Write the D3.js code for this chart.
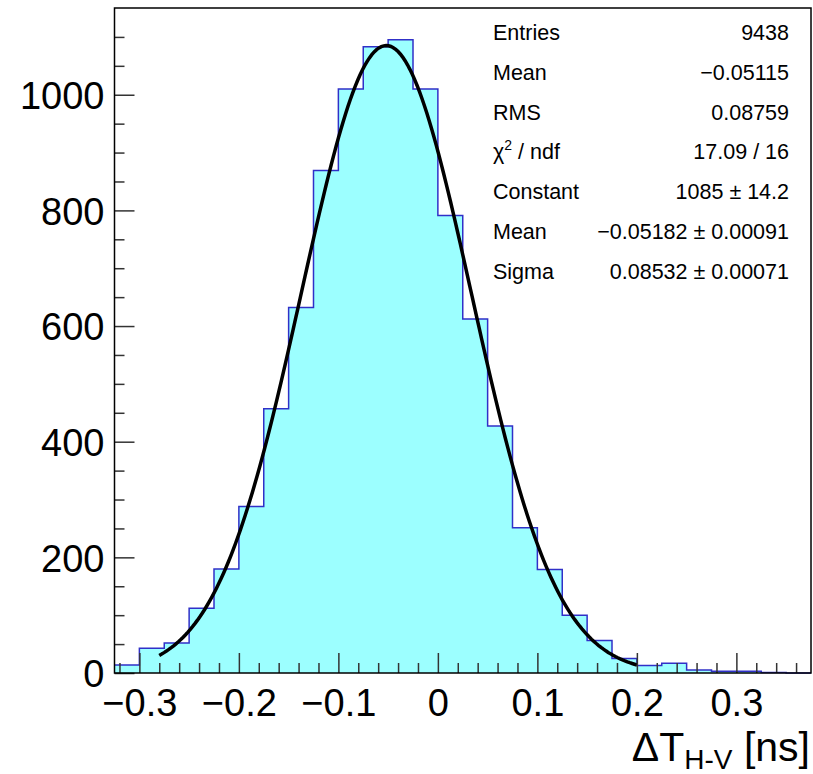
<!DOCTYPE html>
<html>
<head>
<meta charset="utf-8">
<script src="https://cdn.jsdelivr.net/npm/d3@7"></script>
<style>
  body { margin: 0; background: #fff; }
  svg { display: block; }
</style>
</head>
<body>
<div id="chart"></div>
<script>
// Histogram of Delta T (H-V), 28 bins of 0.025 ns starting at -0.325
const binLow = -0.325;
const binWidth = 0.025;
const counts = [14, 43, 52, 112, 180, 288, 457, 632, 869, 1010, 1083, 1095, 1010, 791,
                612, 427, 251, 179, 100, 56, 25, 13, 17, 5, 3, 3, 1, 0];

// Gaussian fit: constant, mean, sigma, and the fit range
const fitParams = [1085, -0.05182, 0.08532];
const fitRange = [-0.28, 0.2];

const xMajorTicks = [-0.3, -0.2, -0.1, 0, 0.1, 0.2, 0.3];
const xMinorTicks = [-0.32, -0.28, -0.26, -0.24, -0.22, -0.18, -0.16, -0.14, -0.12, -0.08, -0.06, -0.04, -0.02,
                     0.02, 0.04, 0.06, 0.08, 0.12, 0.14, 0.16, 0.18, 0.22, 0.24, 0.26, 0.28, 0.32, 0.34, 0.36];
const yMajorTicks = [0, 200, 400, 600, 800, 1000];
const yMinorTicks = [50, 100, 150, 250, 300, 350, 450, 500, 550, 650, 700, 750, 850, 900, 950, 1050, 1100];

const statsLabels = ['Entries', 'Mean', 'RMS', 'χ2 / ndf', 'Constant', 'Mean', 'Sigma'];
const statsValues = ['9438', '−0.05115', '0.08759', '17.09 / 16', '1085 ± 14.2', '−0.05182 ± 0.00091', '0.08532 ± 0.00071'];

const figure_width = 813;
const figure_height = 774;
const frame = { left: 114.5, right: 811, top: 8, bottom: 673 };
const fontFamily = 'Liberation Sans, Arial, Helvetica, sans-serif';

const svg = d3.select('div#chart')
  .append('svg')
    .attr('width', figure_width)
    .attr('height', figure_height);

const x = d3.scaleLinear()
  .domain([binLow, binLow + counts.length * binWidth])
  .range([frame.left, frame.right]);

const y = d3.scaleLinear()
  .domain([0, 1150])
  .range([frame.bottom, frame.top]);

// Histogram fill and step outline
const steps = [];
counts.forEach(function(c, i) {
  const lo = binLow + i * binWidth;
  steps.push([lo, c]);
  steps.push([lo + binWidth, c]);
});

const area = d3.area()
  .x(function(d) { return x(d[0]); })
  .y0(y(0))
  .y1(function(d) { return y(d[1]); });

svg.append('path')
  .datum(steps)
  .attr('d', area)
  .attr('fill', '#9cffff');

const line = d3.line()
  .x(function(d) { return x(d[0]); })
  .y(function(d) { return y(d[1]); });

svg.append('path')
  .datum(steps)
  .attr('d', line)
  .attr('fill', 'none')
  .attr('stroke', '#3030c8')
  .attr('stroke-width', 1.5);

// Fit function
const gaus = function(v) {
  return fitParams[0] * Math.exp(-0.5 * Math.pow((v - fitParams[1]) / fitParams[2], 2));
};
const fitPoints = d3.range(0, 201).map(function(k) {
  const v = fitRange[0] + (fitRange[1] - fitRange[0]) * k / 200;
  return [v, gaus(v)];
});
svg.append('path')
  .datum(fitPoints)
  .attr('d', line)
  .attr('fill', 'none')
  .attr('stroke', '#000')
  .attr('stroke-width', 3.5);

// Axes (ROOT style: ticks pointing inward)
const xAxisMinor = svg.append('g')
  .attr('transform', 'translate(0,' + frame.bottom + ')')
  .call(d3.axisBottom(x).tickValues(xMinorTicks).tickSize(-10).tickFormat(''));
const xAxis = svg.append('g')
  .attr('transform', 'translate(0,' + frame.bottom + ')')
  .call(d3.axisBottom(x).tickValues(xMajorTicks).tickSize(-20).tickPadding(16)
    .tickFormat(function(d) { return d === 0 ? '0' : d3.format('.1f')(d).replace('-', '−'); }));

const yAxisMinor = svg.append('g')
  .attr('transform', 'translate(' + frame.left + ',0)')
  .call(d3.axisLeft(y).tickValues(yMinorTicks).tickSize(-10).tickFormat(''));
const yAxis = svg.append('g')
  .attr('transform', 'translate(' + frame.left + ',0)')
  .call(d3.axisLeft(y).tickValues(yMajorTicks).tickSize(-20).tickPadding(10).tickFormat(d3.format('d')));

[xAxisMinor, xAxis, yAxisMinor, yAxis].forEach(function(g) {
  g.select('.domain').remove();
  g.selectAll('.tick line').attr('stroke', '#333').attr('stroke-width', 1.5);
  g.selectAll('.tick text')
    .attr('fill', '#000')
    .style('font-family', fontFamily)
    .style('font-size', '38px');
});
xAxis.selectAll('.tick text').attr('dy', '0.71em');
yAxis.selectAll('.tick text').attr('dy', '0.36em');

// Frame
svg.append('rect')
  .attr('x', frame.left)
  .attr('y', frame.top)
  .attr('width', frame.right - frame.left)
  .attr('height', frame.bottom - frame.top)
  .attr('fill', 'none')
  .attr('stroke', '#000')
  .attr('stroke-width', 1.5);

// Axis title
const xt = svg.append('text')
  .attr('x', 810)
  .attr('y', 761)
  .attr('text-anchor', 'end')
  .style('font-family', fontFamily)
  .style('font-size', '41px');
xt.append('tspan').text('ΔT');
xt.append('tspan').attr('dy', 8).style('font-size', '28px').text('H-V');
xt.append('tspan').attr('dy', -8).text(' [ns]');

// Stats text (no visible box border in the reference)
statsLabels.forEach(function(label, i) {
  const by = 40 + i * 39.8;
  const t = svg.append('text')
    .attr('x', 493)
    .attr('y', by)
    .style('font-family', fontFamily)
    .style('font-size', '21.5px');
  if (label.indexOf('χ2') === 0) {
    t.append('tspan').text('χ');
    t.append('tspan').attr('dy', -9).style('font-size', '14px').text('2');
    t.append('tspan').attr('dy', 9).text(' / ndf');
  } else {
    t.text(label);
  }
  svg.append('text')
    .attr('x', 789)
    .attr('y', by)
    .attr('text-anchor', 'end')
    .style('font-family', fontFamily)
    .style('font-size', '21.5px')
    .text(statsValues[i]);
});
</script>
</body>
</html>
